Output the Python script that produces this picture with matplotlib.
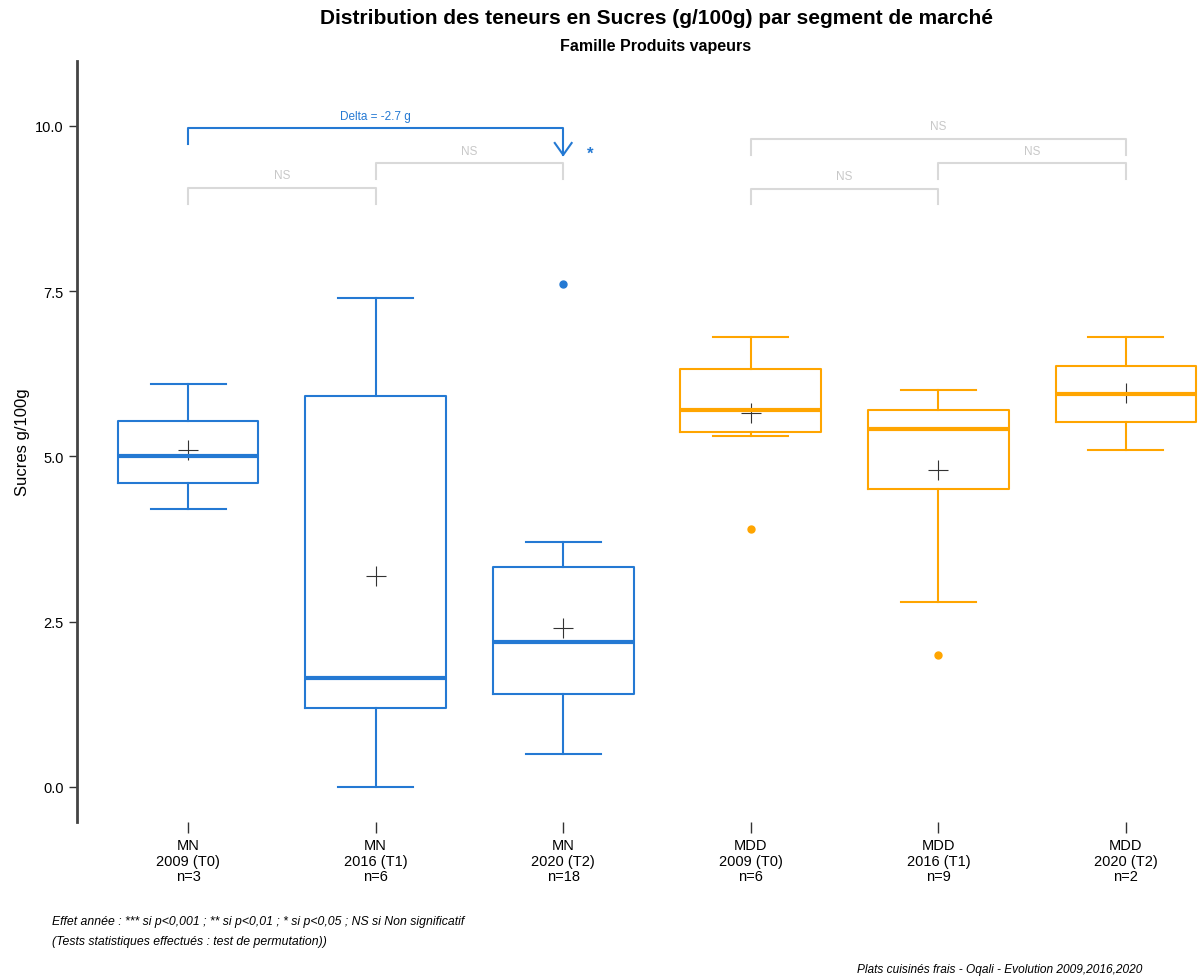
import matplotlib
matplotlib.use("Agg")
import matplotlib.pyplot as plt

plt.rcParams['font.family'] = ['Liberation Sans', 'DejaVu Sans']

# donnees
segments = ["MN", "MN", "MN", "MDD", "MDD", "MDD"]
annees = ["2009 (T0)", "2016 (T1)", "2020 (T2)", "2009 (T0)", "2016 (T1)", "2020 (T2)"]
effectifs = [3, 6, 18, 6, 9, 2]
whislo = [4.2, 0.0, 0.5, 5.31, 2.8, 5.1]
q1 = [4.6, 1.2, 1.41, 5.37, 4.5, 5.52]
med = [5.0, 1.65, 2.2, 5.7, 5.41, 5.95]
q3 = [5.54, 5.92, 3.32, 6.32, 5.7, 6.37]
whishi = [6.1, 7.4, 3.7, 6.8, 6.0, 6.8]
moyennes = [5.1, 3.19, 2.4, 5.65, 4.8, 5.96]
outliers = [[], [], [7.6], [3.9], [2.0], []]

# brackets : (debut, fin, hauteur, texte)
tests = [(1, 2, 9.06, "NS"), (2, 3, 9.43, "NS"),
         (4, 5, 9.05, "NS"), (5, 6, 9.43, "NS"), (4, 6, 9.8, "NS")]
delta_txt = "Delta = -2.7 g"

bleu = "#2479D3"
orange = "#FFA500"
gris = "#D9D9D9"
couleurs = [bleu] * 3 + [orange] * 3

fig = plt.figure(figsize=(11.99, 9.79), dpi=100)
ax = fig.add_axes([77/1199, 1 - 823/979, 1160/1199, (823 - 62)/979])

pos = list(range(1, 7))
for i in range(6):
    st = [dict(med=med[i], q1=q1[i], q3=q3[i], whislo=whislo[i],
               whishi=whishi[i], fliers=outliers[i])]
    c = couleurs[i]
    ax.bxp(st, positions=[pos[i]], widths=0.75, capwidths=0.4,
           showfliers=True,
           boxprops=dict(color=c, linewidth=1.5),
           medianprops=dict(color=c, linewidth=3),
           whiskerprops=dict(color=c, linewidth=1.5),
           capprops=dict(color=c, linewidth=1.5),
           flierprops=dict(marker='o', markerfacecolor=c, markeredgecolor=c,
                           markersize=5))
    ax.plot(pos[i], moyennes[i], marker='+', color='#333333',
            markersize=15, markeredgewidth=0.8)

# brackets NS
for a, b, h, t in tests:
    ax.plot([a, a, b, b], [h - 0.24, h, h, h - 0.24], color=gris, lw=1.5)
    ax.text((a + b) / 2, h + 0.1, t, ha='center', va='bottom',
            color='#C8C8C8', fontsize=8.5)

# fleche delta
ax.plot([1, 1, 3, 3], [9.73, 9.97, 9.97, 9.56], color=bleu, lw=1.5)
ax.plot([2.955, 3, 3.045], [9.74, 9.56, 9.74], color=bleu, lw=1.5)
ax.text(2, 10.05, delta_txt, ha='center', va='bottom', color=bleu, fontsize=8.5)
ax.text(3.145, 9.58, "*", ha='center', va='center', color=bleu,
        fontsize=12, fontweight='bold')

ax.set_xlim(0.408, 6.592)
ax.set_ylim(-0.53, 10.98)
ax.set_yticks([0, 2.5, 5, 7.5, 10])
ax.set_yticklabels(["0.0", "2.5", "5.0", "7.5", "10.0"])
ax.set_xticks(pos)
ax.set_xticklabels([f"{s}\n{a}\nn={n}" for s, a, n in zip(segments, annees, effectifs)],
                   fontsize=10.5, linespacing=1.15)
ax.tick_params(axis='y', labelsize=10.5, length=6, width=1, color='#333333')
ax.tick_params(axis='x', length=8, width=1, color='#333333')
for s in ['top', 'right', 'bottom']:
    ax.spines[s].set_visible(False)
ax.spines['left'].set_linewidth(2)
ax.spines['left'].set_color('#444444')
ax.set_ylabel("Sucres g/100g", fontsize=12, labelpad=4)

fig.text(656/1199, 1 - 18/979, "Distribution des teneurs en Sucres (g/100g) par segment de marché",
         ha='center', va='center', fontsize=15, fontweight='bold')
fig.text(656/1199, 1 - 46/979, "Famille Produits vapeurs",
         ha='center', va='center', fontsize=11.5, fontweight='bold')
fig.text(52/1199, 1 - 922/979,
         "Effet année : *** si p<0,001 ; ** si p<0,01 ; * si p<0,05 ; NS si Non significatif",
         ha='left', va='center', fontsize=8.8, style='italic')
fig.text(52/1199, 1 - 942/979, "(Tests statistiques effectués : test de permutation))",
         ha='left', va='center', fontsize=8.8, style='italic')
fig.text(1142/1199, 1 - 970/979, "Plats cuisinés frais - Oqali - Evolution 2009,2016,2020",
         ha='right', va='center', fontsize=8.6, style='italic')

fig.savefig("out.png", dpi=100)
